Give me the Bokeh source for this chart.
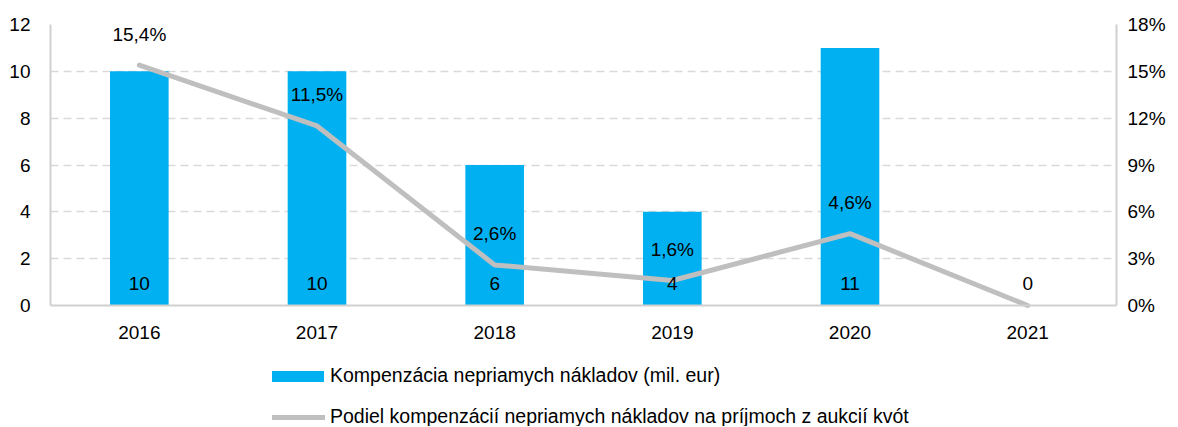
from bokeh.plotting import figure
from bokeh.models import Range1d, LinearAxis, FixedTicker, ColumnDataSource, Legend, LegendItem
from bokeh.core.properties import value
from bokeh.embed import file_html
from bokeh.resources import INLINE

years = ["2016", "2017", "2018", "2019", "2020", "2021"]
kompenzacia = [10, 10, 6, 4, 11, 0]
podiel = [15.4, 11.5, 2.6, 1.6, 4.6, 0.0]
left_ticks = [0, 2, 4, 6, 8, 10, 12]
right_ticks = [0, 3, 6, 9, 12, 15, 18]
bar_label = "Kompenzácia nepriamych nákladov (mil. eur)"
line_label = "Podiel kompenzácií nepriamych nákladov na príjmoch z aukcií kvót"

FONT = "Liberation Sans"
FS = "19px"
LFS = "19.5px"
BLUE = "#00B0F0"
GRAY = "#BFBFBF"
AXIS = "#D0D0D0"

# layout (pixels): plot area from y=24 (top value) to y=305 (zero), figure bottom at 426
W, H, TOP, ZERO = 1170, 426, 24, 305
below_frac = (H - ZERO) / (ZERO - TOP)
ymax_l, ymax_r = left_ticks[-1], right_ticks[-1]

bar_src = ColumnDataSource(dict(x=years, top=kompenzacia, lbl=[str(v) for v in kompenzacia]))
line_src = ColumnDataSource(dict(x=years, y=podiel))
pct_src = ColumnDataSource(dict(x=years[:5], y=podiel[:5],
                                lbl=[f"{v:.1f}%".replace(".", ",") for v in podiel[:5]]))

p = figure(x_range=years, y_range=Range1d(-ymax_l * below_frac, ymax_l), width=W, height=H,
           output_backend="svg", toolbar_location=None,
           min_border_left=50, min_border_right=54, min_border_top=TOP, min_border_bottom=0)
p.x_range.range_padding = 0
p.extra_y_ranges = {"pct": Range1d(-ymax_r * below_frac, ymax_r)}
p.outline_line_color = None
p.background_fill_color = "white"

bars = p.vbar(x="x", top="top", width=0.33, source=bar_src, color=BLUE, line_color=None)
ln = p.line(x="x", y="y", source=line_src, y_range_name="pct", line_color=GRAY,
            line_width=5, line_cap="round", line_join="round")

p.text(x="x", y=0, text="lbl", source=bar_src, text_align="center", text_baseline="middle",
       y_offset=-22, text_font=value(FONT), text_font_size=FS, text_color="black")
p.text(x="x", y="y", text="lbl", source=pct_src, y_range_name="pct", text_align="center",
       text_baseline="middle", y_offset=-31, text_font=value(FONT), text_font_size=FS,
       text_color="black")

for ax in [p.xaxis[0], p.yaxis[0]]:
    ax.axis_line_color = AXIS
    ax.axis_line_width = 2
    ax.major_tick_line_color = None
    ax.minor_tick_line_color = None
    ax.major_label_text_font = FONT
    ax.major_label_text_font_size = FS
    ax.major_label_text_color = "black"

p.xaxis[0].fixed_location = 0
p.xaxis.major_label_standoff = 14
p.yaxis[0].ticker = FixedTicker(ticks=left_ticks)
p.yaxis[0].bounds = (0, ymax_l)
p.yaxis[0].major_label_standoff = 14

raxis = LinearAxis(y_range_name="pct", ticker=FixedTicker(ticks=right_ticks),
                   major_label_overrides={t: f"{t}%" for t in right_ticks},
                   bounds=(0, ymax_r))
raxis.axis_line_color = AXIS
raxis.axis_line_width = 2
raxis.major_tick_line_color = None
raxis.minor_tick_line_color = None
raxis.major_label_text_font = FONT
raxis.major_label_text_font_size = FS
raxis.major_label_text_color = "black"
raxis.major_label_standoff = 5
p.add_layout(raxis, "right")

p.xgrid.grid_line_color = None
p.ygrid.ticker = FixedTicker(ticks=left_ticks[1:])
p.ygrid.grid_line_color = "#D9D9D9"
p.ygrid.grid_line_width = 1.5
p.ygrid.grid_line_dash = "8 5"

common = dict(orientation="vertical", padding=0, margin=0, border_line_color=None,
              background_fill_alpha=0, label_text_font=FONT, label_text_font_size=LFS,
              label_text_color="black", label_height=20)
legend_bar = Legend(items=[LegendItem(label=bar_label, renderers=[bars])],
                    location=(215, 39), glyph_width=65, glyph_height=14, label_standoff=0,
                    **common)
legend_line = Legend(items=[LegendItem(label=line_label, renderers=[ln])],
                     location=(222, -2), glyph_width=53, glyph_height=14, label_standoff=5,
                     **common)
p.add_layout(legend_bar, "center")
p.add_layout(legend_line, "center")

open("out.html", "w").write(file_html(p, INLINE))
